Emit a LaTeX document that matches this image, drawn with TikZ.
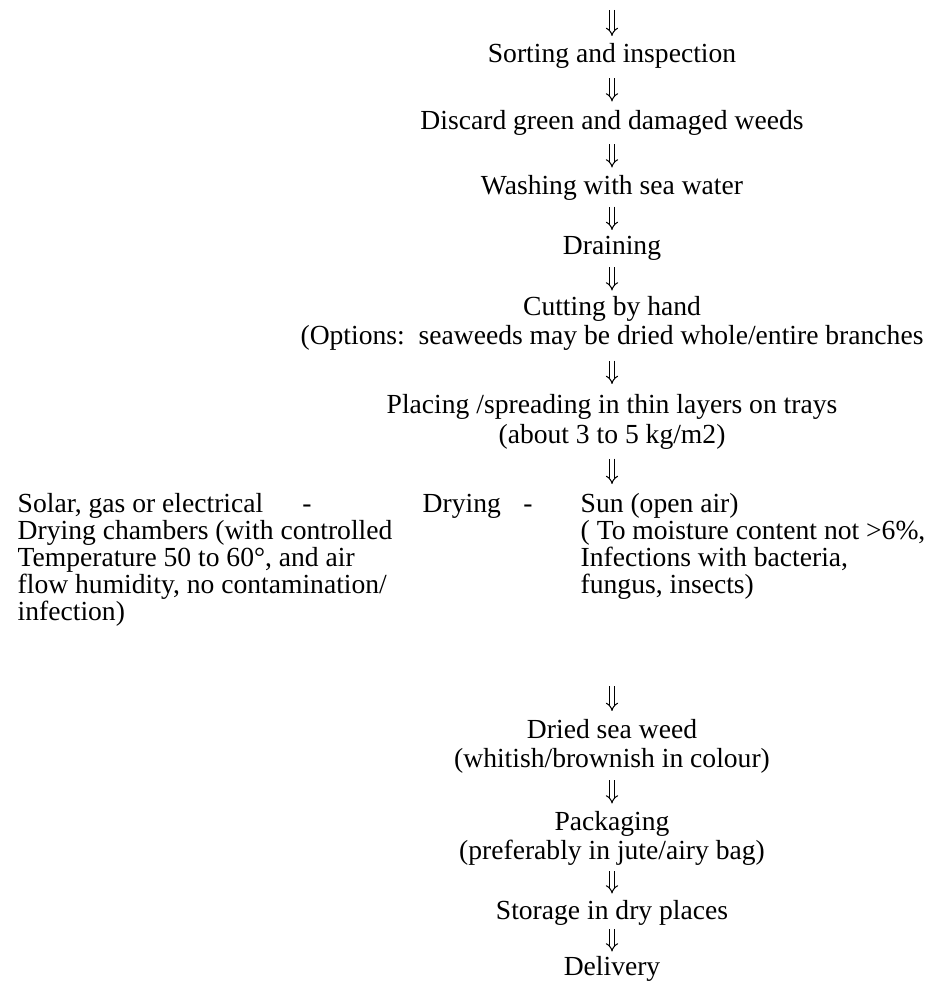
\documentclass[tikz,border=0pt]{standalone}
\usepackage{fontspec}
\setmainfont{Liberation Serif}
\usepackage{tikz}
\usetikzlibrary{arrows.meta,calc,positioning}

\tikzset{
  stage/.style={font=\fontsize{7.85}{8.25}\selectfont, inner sep=0pt, anchor=base,
    text height=5.5pt, text depth=1.7pt},
  note/.style={font=\fontsize{7.85}{7.68}\selectfont, inner sep=0pt, align=left, anchor=north west},
  flow/.style={double, double distance=0.9pt, line width=0.3pt, -{Implies},
    shorten <=#1, shorten >=#1},
  flow/.default=0.08cm,
}

\begin{document}
\begin{tikzpicture}
  \useasboundingbox (0,0) rectangle (9.27,-9.82);

  % Upper steps
  \coordinate (prev) at (6.12,-0.10);
  \node[stage] (sort) at (6.12,-0.63) {Sorting and inspection};
  \node[stage] (discard) at (6.12,-1.30) {Discard green and damaged weeds};
  \node[stage] (wash) at (6.12,-1.95) {Washing with sea water};
  \node[stage] (drain) at (6.12,-2.55) {Draining};
  \node[stage] (cut) at (6.12,-3.16) {Cutting by hand};
  \node[stage] (options) at (6.12,-3.45) {(Options:\ \ seaweeds may be dried whole/entire branches};
  \node[stage] (place) at (6.12,-4.13) {Placing /spreading in thin layers on trays};
  \node[stage] (load) at (6.12,-4.43) {(about 3 to 5 kg/m2)};

  % Drying: chambers or sun
  \node[note] (chamber) at (0.17,-4.93) {Solar, gas or electrical\\
    Drying chambers (with controlled\\
    Temperature 50 to 60°, and air\\
    flow humidity, no contamination/\\
    infection)};
  \node[stage] (dashl) at (3.07,-5.12) {-};
  \node[stage, anchor=base west] (dry) at (4.22,-5.12) {Drying};
  \node[stage] (dashr) at (5.28,-5.12) {-};
  \node[note] (sun) at (5.80,-4.93) {Sun (open air)\\
    ( To moisture content not >6\%,\\
    Infections with bacteria,\\
    fungus, insects)};

  % Lower steps
  \node[stage] (dried) at (6.12,-7.38) {Dried sea weed};
  \node[stage] (colour) at (6.12,-7.67) {(whitish/brownish in colour)};
  \node[stage] (pack) at (6.12,-8.30) {Packaging};
  \node[stage] (bag) at (6.12,-8.59) {(preferably in jute/airy bag)};
  \node[stage] (store) at (6.12,-9.19) {Storage in dry places};
  \node[stage] (deliver) at (6.12,-9.75) {Delivery};

  % Arrows
  \draw[flow=0cm, shorten >=0.07cm] (prev) -- (sort);
  \draw[flow=0.085cm] (sort) -- (discard);
  \draw[flow=0.075cm] (discard) -- (wash);
  \draw[flow=0.05cm] (wash) -- (drain);
  \draw[flow=0.055cm] (drain) -- (cut);
  \draw[flow=0.09cm] (options) -- (place);
  \draw[flow=0.09cm] (load) -- (load |- sun.north);
  \draw[flow=0.07cm, shorten <=0.86cm] (sun.south -| dried.north) -- (dried.north);
  \draw[flow=0.065cm] (colour) -- (pack);
  \draw[flow=0.055cm] (bag) -- (store);
  \draw[flow=0.035cm] (store) -- (deliver);
\end{tikzpicture}
\end{document}
